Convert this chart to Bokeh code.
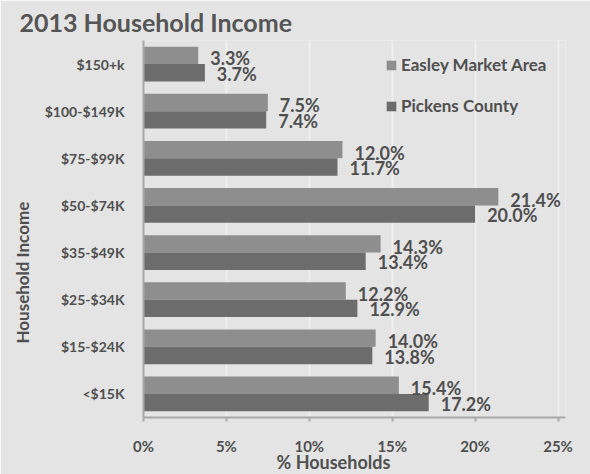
from bokeh.plotting import figure
from bokeh.models import (ColumnDataSource, FactorRange, Range1d, LabelSet, Legend,
                          LegendItem, FixedTicker, PrintfTickFormatter, Title)
from bokeh.core.properties import value
from bokeh.transform import dodge
from bokeh.embed import file_html
from bokeh.resources import INLINE

# ---- data ----
categories = ["$150+k", "$100-$149K", "$75-$99K", "$50-$74K",
              "$35-$49K", "$25-$34K", "$15-$24K", "<$15K"]
easley = [3.3, 7.5, 12.0, 21.4, 14.3, 12.2, 14.0, 15.4]
pickens = [3.7, 7.4, 11.7, 20.0, 13.4, 12.9, 13.8, 17.2]
series_names = ["Easley Market Area", "Pickens County"]
x_ticks = [0, 5, 10, 15, 20, 25]
title_text = "2013 Household Income"
x_title = "% Households"
y_title = "Household Income"

source = ColumnDataSource(dict(
    cat=categories,
    easley=easley,
    pickens=pickens,
    easley_lbl=[f"{v:.1f}%" for v in easley],
    pickens_lbl=[f"{v:.1f}%" for v in pickens],
))

BG = "#e4e4e4"
TXT = "#4f4f4f"
FONT = "Lato"

p = figure(width=590, height=474,
           y_range=FactorRange(factors=list(reversed(categories))),
           x_range=Range1d(0, 25.45),
           output_backend="svg", toolbar_location=None,
           min_border_left=142, min_border_right=25,
           min_border_top=40, min_border_bottom=57)

p.background_fill_color = BG
p.border_fill_color = BG
p.outline_line_color = None

r1 = p.hbar(y=dodge("cat", 0.185, range=p.y_range), right="easley", left=0,
            height=0.37, source=source, fill_color="#8e8e8e", line_color=None)
r2 = p.hbar(y=dodge("cat", -0.185, range=p.y_range), right="pickens", left=0,
            height=0.37, source=source, fill_color="#6c6c6c", line_color=None)

lbl1 = LabelSet(x="easley", y=dodge("cat", 0.185, range=p.y_range), text="easley_lbl",
                source=source, x_offset=12, y_offset=-3, text_baseline="middle",
                text_font=value(FONT), text_font_style="bold", text_font_size="18px",
                text_color=TXT)
lbl2 = LabelSet(x="pickens", y=dodge("cat", -0.185, range=p.y_range), text="pickens_lbl",
                source=source, x_offset=12, y_offset=-1, text_baseline="middle",
                text_font=value(FONT), text_font_style="bold", text_font_size="18px",
                text_color=TXT)
p.add_layout(lbl1)
p.add_layout(lbl2)

legend = Legend(items=[LegendItem(label=series_names[0], renderers=[r1]),
                       LegendItem(label=series_names[1], renderers=[r2])],
                location=(242, 301), orientation="vertical",
                glyph_width=12, glyph_height=12, label_standoff=4, spacing=20,
                padding=0, margin=0, border_line_color=None,
                background_fill_alpha=0,
                label_text_font=FONT, label_text_font_style="bold",
                label_text_font_size="17px", label_text_color=TXT)
p.add_layout(legend)

# main title
p.title.text = title_text
p.title.text_font = FONT
p.title.text_font_size = "25px"
p.title.text_font_style = "bold"
p.title.text_color = "#555555"
p.title.align = "left"
p.title.offset = -124
p.title.standoff = 4
p.title.vertical_align = "top"

# axis titles
p.add_layout(Title(text=x_title, align="left", offset=133, standoff=-13,
                   vertical_align="top",
                   text_font=FONT, text_font_size="18px", text_font_style="bold",
                   text_color=TXT, text_line_height=1.0), "below")
p.add_layout(Title(text=y_title, align="left", offset=74, standoff=18,
                   text_font=FONT, text_font_size="17px", text_font_style="bold",
                   text_color=TXT, text_line_height=1.0), "left")

# grid
p.ygrid.grid_line_color = None
p.xgrid.ticker = FixedTicker(ticks=x_ticks)
p.xgrid.grid_line_color = "#efefef"
p.xgrid.grid_line_width = 2

# x axis
p.xaxis.ticker = FixedTicker(ticks=x_ticks)
p.xaxis.formatter = PrintfTickFormatter(format="%d%%")
p.xaxis.major_label_text_font = FONT
p.xaxis.major_label_text_font_style = "bold"
p.xaxis.major_label_text_font_size = "15px"
p.xaxis.major_label_text_color = TXT
p.xaxis.major_label_standoff = 15
p.xaxis.major_tick_out = 4
p.xaxis.major_tick_in = 0
p.xaxis.minor_tick_line_color = None
p.xaxis.axis_line_color = "#a8a8a8"
p.xaxis.axis_line_width = 2
p.xaxis.major_tick_line_color = "#a8a8a8"
p.xaxis.major_tick_line_width = 2

# y axis
p.yaxis.major_label_text_font = FONT
p.yaxis.major_label_text_font_style = "bold"
p.yaxis.major_label_text_font_size = "14px"
p.yaxis.major_label_text_color = TXT
p.yaxis.major_label_standoff = 19
p.yaxis.major_tick_out = 0
p.yaxis.major_tick_in = 0
p.yaxis.major_tick_line_color = None
p.yaxis.minor_tick_line_color = None
p.yaxis.axis_line_color = "#a8a8a8"
p.yaxis.axis_line_width = 2

open("out.html", "w").write(file_html(p, INLINE))
